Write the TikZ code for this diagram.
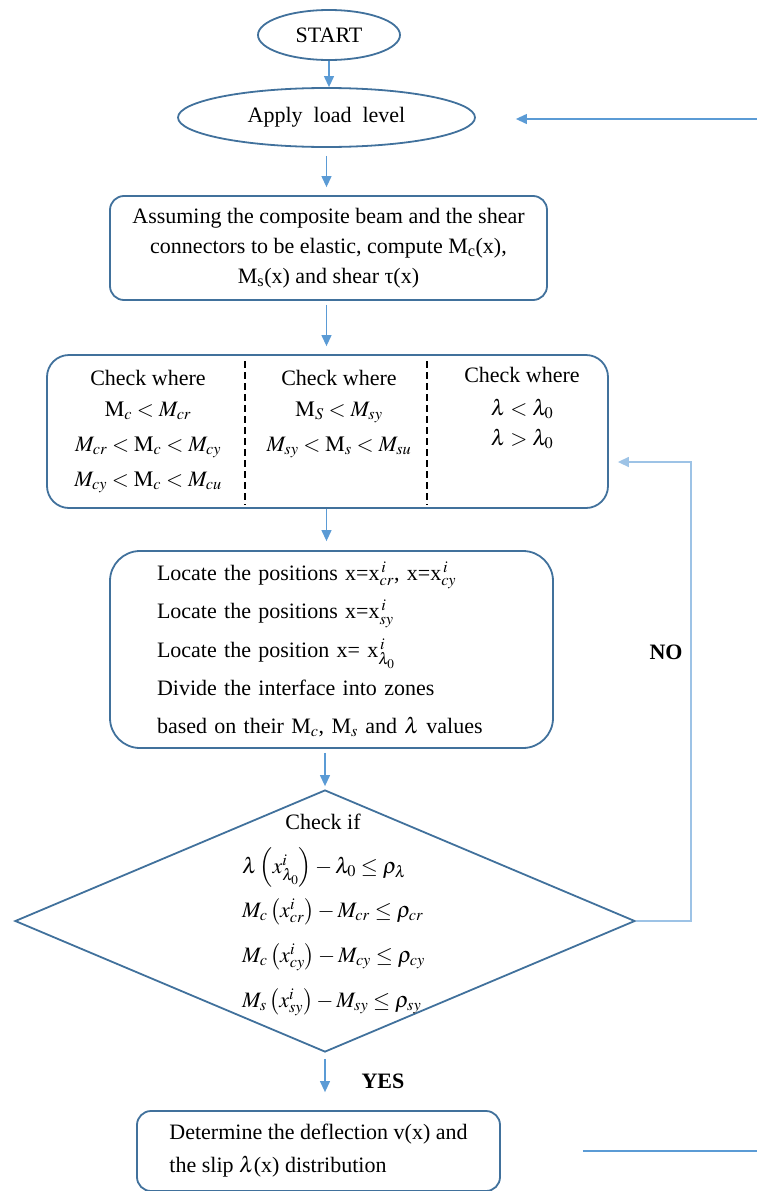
\documentclass[tikz,border=0pt]{standalone}
\usepackage{mathptmx}
\usepackage{fontspec}
\setmainfont{Liberation Serif}
\usetikzlibrary{positioning,shapes.geometric,arrows.meta}
\definecolor{boxblue}{RGB}{65,113,156}
\definecolor{arrowblue}{RGB}{91,155,213}
\definecolor{loopblue}{RGB}{157,195,230}
\tikzset{
  termnode/.style={ellipse, draw=boxblue, line width=1.8pt, inner sep=0pt},
  procbox/.style={draw=boxblue, line width=1.8pt, rounded corners=14pt, align=center},
  decision/.style={diamond, draw=boxblue, line width=1.8pt, inner sep=0pt,
                   minimum width=620pt, minimum height=262pt},
  arr/.style={-{Triangle[length=11pt,width=10pt]}, arrowblue, line width=1.2pt},
  looparr/.style={-{Triangle[length=11pt,width=10pt]}, loopblue, line width=1.4pt},
  plainline/.style={arrowblue, line width=1.2pt},
  colsep/.style={line width=1.6pt, dash pattern=on 7pt off 4pt},
  mathline/.style={anchor=base west, inner sep=0pt},
  flowlabel/.style={font=\fontsize{22}{30}\selectfont\bfseries, inner sep=0pt}
}

\begin{document}
\begin{tikzpicture}[x=1pt, y=-1pt, font=\fontsize{22}{30}\selectfont]
  \useasboundingbox (0,0) rectangle (757,1191);

  % Start and load step
  \node[termnode, minimum width=142pt, minimum height=50pt] (start) at (329,35) {START};
  \node[termnode, minimum width=297pt, minimum height=59pt] (load) at (326.5,117.5)
        {Apply~ load~ level};
  \coordinate (feedin) at (757,119);

  % Elastic analysis
  \node[procbox, minimum width=437pt, minimum height=104pt] (elastic) at (328.5,248)
        {Assuming the composite beam and the shear\\
         connectors to be elastic, compute M\textsubscript{c}(x),\\
         M\textsubscript{s}(x) and shear τ(x)};

  % Three check columns
  \node[procbox, rounded corners=22pt, minimum width=561pt, minimum height=153pt]
        (check) at (327.5,431.5) {};
  \draw[colsep] (245,361) -- (245,505);
  \draw[colsep] (427,361) -- (427,505);
  \node[align=center, anchor=north, inner sep=0pt] (colc) at (148,370)
        {Check where\\[1pt]
         $\mathrm{M}_c<M_{cr}$\\[5pt]
         $M_{cr}<\mathrm{M}_c<M_{cy}$\\[5pt]
         $M_{cy}<\mathrm{M}_c<M_{cu}$};
  \node[align=center, anchor=north, inner sep=0pt] (cols) at (339,370)
        {Check where\\[1pt]
         $\mathrm{M}_S<M_{sy}$\\[5pt]
         $M_{sy}<\mathrm{M}_s<M_{su}$};
  \node[align=center, anchor=north, inner sep=0pt] (coll) at (522,367)
        {Check where\\[3pt]
         $\lambda<\lambda_0$\\
         $\lambda>\lambda_0$};

  % Locate positions
  \node[procbox, rounded corners=30pt, align=left, text width=349pt, inner xsep=47pt,
        minimum height=197pt, font=\fontsize{22}{38.3}\selectfont] (locate) at (331.5,649.5)
        {Locate the positions x=x$^{\,i}_{cr}$, x=x$^{\,i}_{cy}$\\
         Locate the positions x=x$^{\,i}_{sy}$\\
         Locate the position x= x$^{\,i}_{\lambda_0}$\\
         Divide the interface into zones\\
         based on their M$_c$, M$_s$ and $\lambda$ values};

  % Convergence check
  \node[decision] (cond) at (325,921) {};
  \node[anchor=base, inner sep=0pt] (checkif) at (323,829) {Check if};
  \node[mathline] (fa) at (242,873)
        {$\lambda\left(x^{i}_{\lambda_0}\right)-\lambda_0\le\rho_\lambda$};
  \node[mathline] (fb) at (242,917)
        {$M_c\left(x^{i}_{cr}\right)-M_{cr}\le\rho_{cr}$};
  \node[mathline] (fc) at (242,962)
        {$M_c\left(x^{i}_{cy}\right)-M_{cy}\le\rho_{cy}$};
  \node[mathline] (fd) at (242,1007)
        {$M_s\left(x^{i}_{sy}\right)-M_{sy}\le\rho_{sy}$};

  % Result
  \node[procbox, align=left, minimum width=363pt, minimum height=80pt] (result)
        at (318.5,1151)
        {Determine the deflection v(x) and\\[3pt]
         the slip $\lambda$(x) distribution};
  \coordinate (slipout) at (757,1151);

  % Labels
  \node[flowlabel] (yes) at (383,1081) {YES};
  \node[flowlabel] (no) at (666,652) {NO};

  % Arrows
  \draw[arr] (start.south) -- (start.south |- load.north);
  \draw[arr, shorten <=8pt, shorten >=8pt] (load.south) -- (load.south |- elastic.north);
  \draw[arr, shorten <=4pt, shorten >=8pt] (elastic.south -| load.south) -- (check.north -| load.south);
  \draw[arr, shorten >=9pt] (check.south -| load.south) -- (locate.north -| load.south);
  \draw[arr, shorten <=4pt, shorten >=3pt] (locate.south -| cond.north) -- (cond.north);
  \draw[arr, shorten <=6pt, shorten >=18pt] (cond.south) -- (cond.south |- result.north);
  \draw[arr, shorten >=40pt] (feedin) -- (load.east |- feedin);
  \coordinate (loopturn) at (691,462);
  \draw[looparr, shorten >=9pt] (cond.east) -| (loopturn) -- (check.east |- loopturn);
  \draw[plainline, shorten <=82pt] (result.east |- slipout) -- (slipout);
\end{tikzpicture}
\end{document}
